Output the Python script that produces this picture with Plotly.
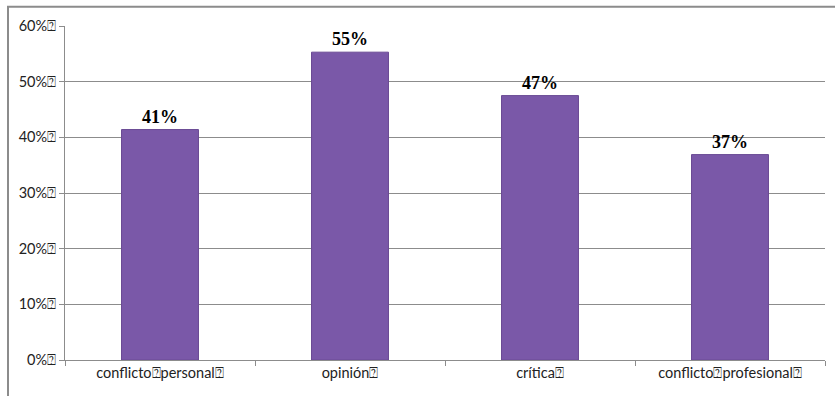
import plotly.graph_objects as go

categories = ["conflicto⍰personal⍰", "opinión⍰", "crítica⍰", "conflicto⍰profesional⍰"]
values = [41.4, 55.3, 47.5, 36.9]
value_labels = ["41%", "55%", "47%", "37%"]
tick_values = [0, 10, 20, 30, 40, 50, 60]
tick_labels = ["0%⍰", "10%⍰", "20%⍰", "30%⍰", "40%⍰", "50%⍰", "60%⍰"]

fig = go.Figure()
fig.add_trace(go.Bar(
    x=categories, y=values,
    marker=dict(color="#7a58a8", line=dict(color="#6a4a94", width=1)),
    text=["<b>" + t + "</b>" for t in value_labels], textposition="outside",
    textfont=dict(family="Liberation Serif", size=18, color="black"),
    cliponaxis=False,
))

fig.update_layout(
    width=835, height=396,
    margin=dict(l=65, r=10, t=26, b=36),
    paper_bgcolor="white", plot_bgcolor="white",
    bargap=0.595,
    showlegend=False,
    font=dict(family="Lato", size=14.5, color="#222"),
    shapes=[dict(type="rect", xref="paper", yref="paper",
                 x0=-0.075, x1=1.1, y0=-0.3, y1=1.058,
                 line=dict(color="#8c8c8c", width=2), layer="below")],
)
fig.update_xaxes(
    type="category", tickson="boundaries", ticks="outside", ticklen=5,
    tickcolor="#8c8c8c", showline=True, linecolor="#8c8c8c", linewidth=1,
    showgrid=False, tickfont=dict(size=14.5),
)
fig.update_yaxes(
    range=[0, 60], tickvals=tick_values, ticktext=tick_labels,
    ticks="outside", ticklen=5, tickcolor="#8c8c8c",
    showline=True, linecolor="#8c8c8c", linewidth=1,
    showgrid=True, gridcolor="#8c8c8c", gridwidth=1, zeroline=False,
    tickfont=dict(size=14.5),
)

fig.write_html("out.html")
